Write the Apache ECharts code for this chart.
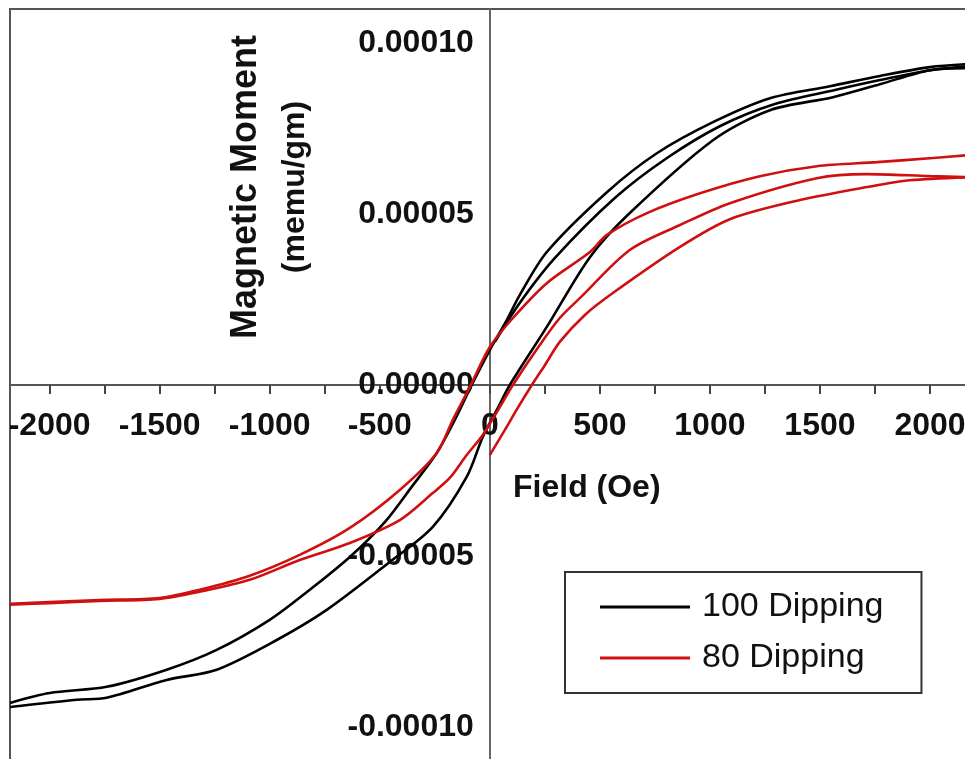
<!DOCTYPE html>
<html>
<head>
<meta charset="utf-8">
<script src="https://cdn.jsdelivr.net/npm/echarts@6/dist/echarts.min.js"></script>
<style>
html,body{margin:0;padding:0;background:#fff;}
#chart{width:965px;height:759px;}
</style>
</head>
<body>
<div id="chart"></div>
<script>
// Field tick labels and tick positions (Oe)
const fieldLabels = [-2000, -1500, -1000, -500, 0, 500, 1000, 1500, 2000];
const fieldTicks = [-2000, -1750, -1500, -1250, -1000, -750, -500, -250, 0, 250, 500, 750, 1000, 1250, 1500, 1750, 2000];
const momentLabels = [-0.0001, -0.00005, 0, 0.00005, 0.0001];

// 100 Dipping (black) branches
const b100DescH = [2180, 2000, 1773, 1545, 1273, 1014, 759, 532, 259, 136, 77, 0, -82, -159, -241, -355, -477, -636, -818, -1000, -1241, -1468, -1741, -2000, -2180];
const b100DescM = [9.39e-5, 9.30e-5, 9.04e-5, 8.74e-5, 8.39e-5, 7.69e-5, 6.78e-5, 5.64e-5, 3.89e-5, 2.63e-5, 1.90e-5, 1.02e-5, 0, -1.02e-5, -1.99e-5, -2.98e-5, -4.01e-5, -5.03e-5, -5.99e-5, -6.87e-5, -7.75e-5, -8.33e-5, -8.83e-5, -9.01e-5, -9.30e-5];
const b100AscH = [-2180, -1877, -1741, -1468, -1241, -968, -741, -455, -259, -105, -32, 32, 91, 259, 455, 636, 1014, 1273, 1559, 1773, 2000, 2180];
const b100AscM = [-9.42e-5, -9.21e-5, -9.15e-5, -8.63e-5, -8.33e-5, -7.46e-5, -6.58e-5, -5.18e-5, -4.15e-5, -2.69e-5, -1.52e-5, -0.73e-5, 0, 1.70e-5, 3.74e-5, 5.03e-5, 7.16e-5, 8.04e-5, 8.42e-5, 8.80e-5, 9.21e-5, 9.27e-5];
const b100StartH = [23, 136, 295, 568, 805, 1045, 1295, 1568, 1773, 2000, 2180];
const b100StartM = [1.26e-5, 2.40e-5, 3.71e-5, 5.47e-5, 6.64e-5, 7.57e-5, 8.22e-5, 8.63e-5, 8.92e-5, 9.21e-5, 9.33e-5];

// 80 Dipping (red) branches
const r80DescH = [2180, 2014, 1759, 1486, 1227, 955, 714, 532, 455, 259, 105, 0, -91, -168, -241, -409, -636, -864, -1091, -1318, -1500, -1773, -2000, -2180];
const r80DescM = [6.73e-5, 6.64e-5, 6.52e-5, 6.40e-5, 6.11e-5, 5.61e-5, 5.03e-5, 4.39e-5, 3.89e-5, 2.98e-5, 1.96e-5, 1.11e-5, -0.06e-5, -1.02e-5, -1.99e-5, -3.07e-5, -4.18e-5, -4.97e-5, -5.58e-5, -5.99e-5, -6.23e-5, -6.29e-5, -6.35e-5, -6.40e-5];
const r80AscH = [-2180, -2000, -1773, -1500, -1318, -1091, -864, -636, -409, -259, -182, -105, -32, 32, 105, 227, 318, 409, 636, 864, 1091, 1486, 1714, 2000, 2180];
const r80AscM = [-6.43e-5, -6.38e-5, -6.32e-5, -6.26e-5, -6.05e-5, -5.70e-5, -5.12e-5, -4.62e-5, -3.95e-5, -3.16e-5, -2.72e-5, -2.05e-5, -1.46e-5, -0.79e-5, 0, 1.17e-5, 1.96e-5, 2.54e-5, 3.95e-5, 4.68e-5, 5.32e-5, 6.05e-5, 6.17e-5, 6.11e-5, 6.08e-5];
const r80StartH = [0, 68, 127, 191, 250, 318, 432, 559, 864, 1091, 1409, 1714, 1909, 2180];
const r80StartM = [-2.05e-5, -1.32e-5, -0.67e-5, 0, 0.58e-5, 1.26e-5, 2.05e-5, 2.69e-5, 4.04e-5, 4.85e-5, 5.41e-5, 5.79e-5, 5.99e-5, 6.08e-5];

const FONT = '"Liberation Sans", Arial, sans-serif';
function pairs(h, m) { return h.map((x, i) => [x, m[i]]); }
function branch(name, color, h, m) {
  return {
    name: name, type: 'line', data: pairs(h, m),
    symbol: 'none', showSymbol: false, smooth: 0.3,
    lineStyle: { color: color, width: 2.6 }, itemStyle: { color: color },
    emphasis: { disabled: true }, animation: false, z: 3
  };
}

// grid geometry: axes crossing at (0,0) placed via offset
const W = 965, H = 759;
const G = { left: 10, right: -9, top: 9, bottom: -2 };
const xMin = -2180, xMax = 2200, yMin = -0.00011, yMax = 0.00011;
const gridW = W - G.left - G.right, gridH = H - G.top - G.bottom;
const yZeroFromBottom = (0 - yMin) / (yMax - yMin) * gridH;
const xZeroFromLeft = (0 - xMin) / (xMax - xMin) * gridW;

const chart = echarts.init(document.getElementById('chart'));
chart.setOption({
  animation: false,
  backgroundColor: '#fff',
  grid: Object.assign({ show: true, borderColor: '#555', borderWidth: 2, outerBoundsMode: 'none', containLabel: false }, G),
  xAxis: {
    type: 'value', min: xMin, max: xMax, interval: 20, position: 'bottom', offset: -yZeroFromBottom,
    axisLine: { onZero: false, lineStyle: { color: '#555', width: 2 } },
    axisTick: { show: true, customValues: fieldTicks, length: 9, lineStyle: { color: '#444', width: 2 } },
    axisLabel: {
      show: true, showMinLabel: false, showMaxLabel: false,
      fontSize: 32, fontWeight: 'bold', fontFamily: FONT, color: '#111', margin: 25,
      formatter: v => {
        const hit = fieldLabels.find(t => Math.abs(t - v) < 1e-6);
        return hit === undefined ? '' : String(hit);
      }
    },
    splitLine: { show: false }
  },
  yAxis: {
    type: 'value', min: yMin, max: yMax, interval: 0.00001, position: 'left', offset: -xZeroFromLeft,
    axisLine: { onZero: false, lineStyle: { color: '#666', width: 2 } },
    axisTick: { show: false },
    axisLabel: {
      show: true, showMinLabel: false, showMaxLabel: false,
      fontSize: 32, fontWeight: 'bold', fontFamily: FONT, color: '#111', margin: 16,
      formatter: v => {
        const hit = momentLabels.find(t => Math.abs(t - v) < 1e-10);
        return hit === undefined ? '' : hit.toFixed(5);
      }
    },
    splitLine: { show: false }
  },
  legend: {
    data: ['100 Dipping', '80 Dipping'],
    orient: 'vertical', left: 565, top: 572, icon: 'rect',
    padding: [15, 38, 15, 35], itemGap: 11, itemWidth: 90, itemHeight: 3,
    borderColor: '#333', borderWidth: 2, backgroundColor: '#fff',
    textStyle: { fontSize: 34, fontFamily: FONT, color: '#111', lineHeight: 40, padding: [0, 0, 0, 7] },
    selectedMode: false
  },
  graphic: [
    {
      type: 'text', x: 271, y: 187, rotation: Math.PI / 2, z: 10,
      style: {
        text: '{a|Magnetic Moment}\n{b|(memu/gm)}',
        align: 'center', verticalAlign: 'middle', fill: '#111',
        rich: {
          a: { fontSize: 36, fontWeight: 'bold', fontFamily: FONT, lineHeight: 49, fill: '#111', align: 'center' },
          b: { fontSize: 32, fontWeight: 'bold', fontFamily: FONT, lineHeight: 49, fill: '#111', align: 'center' }
        }
      }
    },
    {
      type: 'text', x: 513, y: 488, z: 10,
      style: { text: 'Field (Oe)', fontSize: 32, fontWeight: 'bold', fontFamily: FONT, fill: '#111', align: 'left', verticalAlign: 'middle' }
    }
  ],
  series: [
    branch('100 Dipping', '#000', b100DescH, b100DescM),
    branch('100 Dipping', '#000', b100AscH, b100AscM),
    branch('100 Dipping', '#000', b100StartH, b100StartM),
    branch('80 Dipping', '#d01010', r80DescH, r80DescM),
    branch('80 Dipping', '#d01010', r80AscH, r80AscM),
    branch('80 Dipping', '#d01010', r80StartH, r80StartM)
  ]
});
</script>
</body>
</html>
